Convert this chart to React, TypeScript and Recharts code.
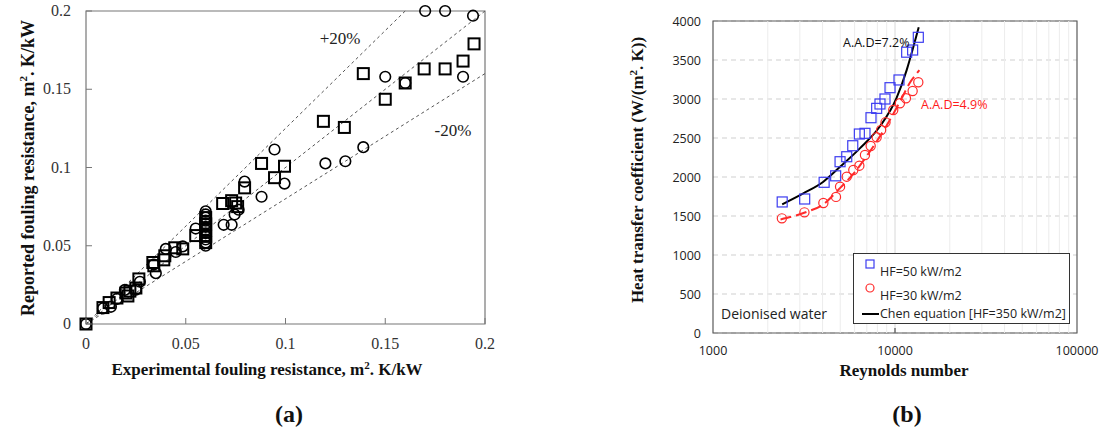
import React from "react";
import {
  ScatterChart,
  ComposedChart,
  Scatter,
  Line,
  XAxis,
  YAxis,
  CartesianGrid,
  ReferenceLine,
  ReferenceArea,
} from "recharts";

// ---- panel (a): reported vs experimental fouling resistance ----
const squarePts: [number, number][] = [
  [0, 0], [0.0085, 0.0105], [0.0116, 0.0137], [0.0155, 0.0166], [0.02, 0.0198],
  [0.021, 0.0179], [0.022, 0.021], [0.025, 0.023], [0.0265, 0.0288], [0.0335, 0.0393],
  [0.034, 0.0372], [0.039, 0.041], [0.0395, 0.0436], [0.0445, 0.0487], [0.0485, 0.048],
  [0.055, 0.0565], [0.06, 0.068], [0.06, 0.064], [0.06, 0.06], [0.06, 0.056],
  [0.06, 0.052], [0.0685, 0.077], [0.073, 0.0788], [0.075, 0.0773], [0.076, 0.075],
  [0.0795, 0.087], [0.088, 0.1026], [0.0945, 0.0935], [0.0995, 0.1008], [0.119, 0.1295],
  [0.1295, 0.1256], [0.139, 0.16], [0.15, 0.1436], [0.16, 0.154], [0.1695, 0.163],
  [0.18, 0.163], [0.189, 0.168], [0.1945, 0.179],
];
const circlePts: [number, number][] = [
  [0, 0], [0.0085, 0.01], [0.0125, 0.011], [0.0155, 0.016], [0.0195, 0.0218],
  [0.025, 0.022], [0.027, 0.027], [0.035, 0.0325], [0.034, 0.038], [0.04, 0.048],
  [0.045, 0.046], [0.0485, 0.0496], [0.055, 0.061],
  [0.06, 0.072], [0.06, 0.07], [0.06, 0.068], [0.06, 0.066], [0.06, 0.064], [0.06, 0.062],
  [0.06, 0.06], [0.06, 0.058], [0.06, 0.056], [0.06, 0.054], [0.06, 0.052], [0.06, 0.05],
  [0.069, 0.0634], [0.073, 0.0634], [0.0745, 0.07], [0.0765, 0.073], [0.0795, 0.091],
  [0.088, 0.0813], [0.0945, 0.1115], [0.0995, 0.0897], [0.12, 0.1026], [0.13, 0.104],
  [0.139, 0.113], [0.15, 0.158], [0.16, 0.154], [0.17, 0.2], [0.18, 0.2],
  [0.189, 0.158], [0.194, 0.197],
];
const resTicks = [0, 0.05, 0.1, 0.15, 0.2];
const bandSlopes = [1 / 0.8, 1, 0.8]; // +20%, parity, -20%

// ---- panel (b): heat transfer coefficient vs Reynolds number ----
const hf50Re = [2400, 3190, 4080, 4720, 4990, 5430, 5860, 6370, 6840, 7380, 7930, 8270, 8810, 9390, 10520, 11590, 12500, 13430];
const hf50H = [1680, 1718, 1932, 2015, 2196, 2260, 2401, 2551, 2560, 2760, 2880, 2936, 3000, 3145, 3244, 3600, 3628, 3791];
const hf30Re = [2390, 3180, 4040, 4740, 4990, 5430, 5900, 6370, 6840, 7350, 7930, 8390, 8870, 9780, 10640, 11480, 12500, 13430];
const hf30H = [1470, 1547, 1667, 1745, 1876, 2004, 2090, 2145, 2282, 2397, 2509, 2603, 2701, 2859, 2945, 3009, 3103, 3215];
const chenRe = [2400, 3135, 4040, 4990, 6430, 8270, 10190, 11590, 12620, 13500];
const chenH = [1650, 1790, 1940, 2130, 2370, 2650, 3010, 3370, 3670, 3920];
const fitRe = [2350, 3200, 4040, 5000, 6000, 7000, 8000, 9000, 10000, 11000, 12000, 13000, 13600];
const fitH = [1455, 1545, 1650, 1860, 2060, 2270, 2470, 2660, 2850, 3030, 3200, 3310, 3370];
const reTicks = [1000, 10000, 100000];
const hTicks = [0, 500, 1000, 1500, 2000, 2500, 3000, 3500, 4000];
const reMinor = [2000, 3000, 4000, 5000, 6000, 7000, 8000, 9000, 10000, 20000, 30000, 40000, 50000, 60000, 70000, 80000, 90000];

const SERIF = "'Liberation Serif', 'Times New Roman', serif";
const SANS = "'Open Sans', 'Liberation Sans', sans-serif";
const BLUE = "#3c3cf0";
const RED = "#ff2a2a";

const toXY = (pts: [number, number][]) => pts.map(([x, y]) => ({ x, y }));
const zip = (re: number[], h: number[]) => re.map((r, i) => ({ re: r, h: h[i] }));

const SquareMark = (p: any) => (
  <rect x={p.cx - 5.5} y={p.cy - 5.5} width={11} height={11} fill="none" stroke="#000" strokeWidth={2} />
);
const CircleMark = (p: any) => (
  <circle cx={p.cx} cy={p.cy} r={5.3} fill="none" stroke="#000" strokeWidth={1.6} />
);
const BlueSquare = (p: any) => (
  <rect x={p.cx - 5} y={p.cy - 5} width={10} height={10} fill="none" stroke={BLUE} strokeWidth={1.2} />
);
const RedCircle = (p: any) => (
  <circle cx={p.cx} cy={p.cy} r={4.6} fill="none" stroke={RED} strokeWidth={1.2} />
);

const TM = 4;
const ResTickX = (p: any) => {
  const ay = p.y - TM;
  return (
    <g>
      <line x1={p.x} x2={p.x} y1={ay} y2={ay - 6} stroke="#777" />
      <text x={p.x} y={ay + 25} textAnchor="middle" fontFamily={SERIF} fontSize={16} fill="#333">
        {p.payload.value}
      </text>
    </g>
  );
};
const ResTickY = (p: any) => {
  const ax = p.x + TM;
  return (
    <g>
      <line x1={ax} x2={ax + 6} y1={p.y} y2={p.y} stroke="#777" />
      <text x={ax - 15} y={p.y + 5} textAnchor="end" fontFamily={SERIF} fontSize={16} fill="#333">
        {p.payload.value}
      </text>
    </g>
  );
};
const ReTickX = (p: any) => {
  const ay = p.y - TM;
  return (
    <g>
      {p.payload.value === 10000 && <line x1={p.x} x2={p.x} y1={ay} y2={ay - 5} stroke="#333" />}
      <text x={p.x} y={ay + 22} textAnchor="middle" fontFamily={SANS} fontSize={12.5} fill="#222">
        {String(p.payload.value)}
      </text>
    </g>
  );
};
const HTickY = (p: any) => (
  <text x={p.x + TM - 12} y={p.y + 4.5} textAnchor="end" fontFamily={SANS} fontSize={12.5} fill="#222">
    {p.payload.value}
  </text>
);

const Txt = ({ x, y, children, style, anchor = "center", rotate = false }: any) => (
  <div
    style={{
      position: "absolute",
      left: x,
      top: y,
      whiteSpace: "nowrap",
      lineHeight: 1,
      transform: `translate(${anchor === "left" ? "0" : "-50%"}, -50%)${rotate ? " rotate(-90deg)" : ""}`,
      ...style,
    }}
  >
    {children}
  </div>
);

export default function App() {
  const squares = toXY(squarePts);
  const circles = toXY(circlePts);
  const hf50 = zip(hf50Re, hf50H);
  const hf30 = zip(hf30Re, hf30H);
  const chen = zip(chenRe, chenH);
  const fit = zip(fitRe, fitH);

  return (
    <div style={{ position: "absolute", left: 0, top: 0, width: 1100, height: 430, background: "#fff", overflow: "hidden" }}>
      {/* (a) */}
      <div style={{ position: "absolute", left: 0, top: 0 }}>
        <ScatterChart width={500} height={390} margin={{ top: 11, right: 15, left: 0, bottom: 0 }}>
          <XAxis
            type="number"
            dataKey="x"
            domain={[0, 0.2]}
            ticks={resTicks}
            height={66}
            axisLine={false}
            tickLine={false}
            tickSize={0}
            tickMargin={TM}
            tick={<ResTickX />}
            interval={0}
          />
          <YAxis
            type="number"
            dataKey="y"
            domain={[0, 0.2]}
            ticks={resTicks}
            width={86}
            axisLine={false}
            tickLine={false}
            tickSize={0}
            tickMargin={TM}
            tick={<ResTickY />}
            interval={0}
          />
          <ReferenceArea x1={0} x2={0.2} y1={0} y2={0.2} fill="none" stroke="#777" strokeWidth={1.2} />
          {bandSlopes.map((s, i) => (
            <ReferenceLine
              key={i}
              segment={[
                { x: 0, y: 0 },
                { x: Math.min(0.2, 0.2 / s), y: Math.min(0.2, 0.2 * s) },
              ]}
              stroke="#555"
              strokeDasharray="3 3"
              strokeWidth={1}
            />
          ))}
          <Scatter data={squares} shape={SquareMark} isAnimationActive={false} />
          <Scatter data={circles} shape={CircleMark} isAnimationActive={false} />
        </ScatterChart>
      </div>

      {/* (b) */}
      <div style={{ position: "absolute", left: 580, top: 0 }}>
        <ComposedChart width={520} height={390} margin={{ top: 21, right: 23, left: 0, bottom: 0 }}>
          <CartesianGrid vertical={false} stroke="#cfcfcf" strokeDasharray="5 4" />
          {reMinor.map((v) => (
            <ReferenceLine key={v} x={v} stroke={v === 10000 ? "#d8d8d8" : "#ececec"} />
          ))}
          <XAxis
            type="number"
            dataKey="re"
            scale="log"
            domain={[1000, 100000]}
            ticks={reTicks}
            allowDataOverflow
            height={57}
            axisLine={false}
            tickLine={false}
            tickSize={0}
            tickMargin={TM}
            tick={<ReTickX />}
            interval={0}
          />
          <YAxis
            type="number"
            dataKey="h"
            domain={[0, 4000]}
            ticks={hTicks}
            width={133}
            axisLine={false}
            tickLine={false}
            tickSize={0}
            tickMargin={TM}
            tick={<HTickY />}
            interval={0}
          />
          <ReferenceArea x1={1000} x2={100000} y1={0} y2={4000} fill="none" stroke="#5a5a5a" strokeWidth={1.2} />
          <Line data={fit} dataKey="h" type="monotone" stroke={RED} strokeWidth={2} strokeDasharray="11 5" dot={false} isAnimationActive={false} />
          <Line data={chen} dataKey="h" type="monotone" stroke="#000" strokeWidth={2} dot={false} isAnimationActive={false} />
          <Scatter data={hf50} shape={BlueSquare} isAnimationActive={false} />
          <Scatter data={hf30} shape={RedCircle} isAnimationActive={false} />
        </ComposedChart>
      </div>

      {/* texts, panel (a) */}
      <Txt x={340} y={38} style={{ fontFamily: SERIF, fontSize: 17, color: "#222" }}>+20%</Txt>
      <Txt x={453} y={130} style={{ fontFamily: SERIF, fontSize: 17, color: "#222" }}>-20%</Txt>
      <Txt x={27} y={168} rotate style={{ fontFamily: SERIF, fontSize: 18, fontWeight: "bold", color: "#111" }}>
        Reported fouling resistance, m<sup style={{ fontSize: 11 }}>2</sup>. K/kW
      </Txt>
      <Txt x={267} y={369} style={{ fontFamily: SERIF, fontSize: 17, fontWeight: "bold", color: "#111" }}>
        Experimental fouling resistance, m<sup style={{ fontSize: 11 }}>2</sup>. K/kW
      </Txt>
      <Txt x={289} y={414} style={{ fontFamily: SERIF, fontSize: 24, fontWeight: "bold", color: "#111" }}>(a)</Txt>

      {/* texts, panel (b) */}
      <Txt x={843} y={43} anchor="left" style={{ fontFamily: SANS, fontSize: 12.5, color: "#111" }}>A.A.D=7.2%</Txt>
      <Txt x={921} y={105} anchor="left" style={{ fontFamily: SANS, fontSize: 12.5, color: "#ff1a1a" }}>A.A.D=4.9%</Txt>
      <Txt x={721} y={314} anchor="left" style={{ fontFamily: SANS, fontSize: 14, color: "#222" }}>Deionised water</Txt>
      <Txt x={637} y={170} rotate style={{ fontFamily: SERIF, fontSize: 17, fontWeight: "bold", color: "#111" }}>
        Heat transfer coefficient (W/(m<sup style={{ fontSize: 11 }}>2</sup>. K))
      </Txt>
      <Txt x={904} y={370} style={{ fontFamily: SERIF, fontSize: 17, fontWeight: "bold", color: "#111" }}>Reynolds number</Txt>
      <Txt x={907} y={414} style={{ fontFamily: SERIF, fontSize: 24, fontWeight: "bold", color: "#111" }}>(b)</Txt>

      {/* legend, panel (b) */}
      <div
        style={{
          position: "absolute",
          left: 853,
          top: 253,
          width: 215,
          height: 69,
          border: "1px solid #333",
          background: "#fff",
          fontFamily: SANS,
          fontSize: 12.5,
          color: "#222",
        }}
      >
        <svg width={215} height={69} style={{ position: "absolute", left: 0, top: 0 }}>
          <rect x={12} y={6} width={8} height={8} fill="none" stroke={BLUE} strokeWidth={1.2} />
          <circle cx={16} cy={34} r={4} fill="none" stroke={RED} strokeWidth={1.2} />
          <line x1={8} x2={25} y1={60} y2={60} stroke="#000" strokeWidth={2} />
        </svg>
        <Txt x={26} y={18} anchor="left">HF=50 kW/m2</Txt>
        <Txt x={26} y={42} anchor="left">HF=30 kW/m2</Txt>
        <Txt x={26} y={60} anchor="left">Chen equation [HF=350 kW/m2]</Txt>
      </div>
    </div>
  );
}
